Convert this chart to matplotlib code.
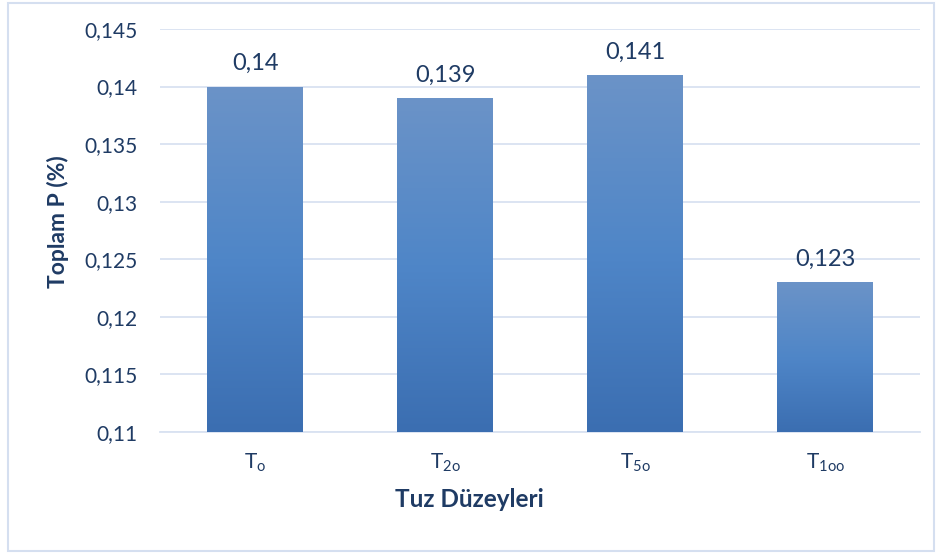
import numpy as np
import matplotlib.pyplot as plt
from matplotlib.patches import Rectangle
from matplotlib.colors import LinearSegmentedColormap

plt.rcParams['font.family'] = ['Lato', 'DejaVu Sans']

kategoriler = [r'T$_{\mathregular{o}}$', r'T$_{\mathregular{2o}}$', r'T$_{\mathregular{5o}}$', r'T$_{\mathregular{1oo}}$']
degerler = [0.14, 0.139, 0.141, 0.123]
etiketler = ['0,14', '0,139', '0,141', '0,123']
yticks = [0.11, 0.115, 0.12, 0.125, 0.13, 0.135, 0.14, 0.145]
ytick_labels = ['0,11', '0,115', '0,12', '0,125', '0,13', '0,135', '0,14', '0,145']

yazi = '#1f3b64'
grid = '#d9e2f1'

fig = plt.figure(figsize=(9.42, 5.53), dpi=100)
fig.patches.append(Rectangle((0.008, 0.004), 0.984, 0.99, transform=fig.transFigure,
                             fill=False, edgecolor='#d5dff0', linewidth=1.5))
ax = fig.add_axes([0.170, 0.2188, 0.807, 0.7288])

x = np.arange(len(degerler))
bars = ax.bar(x, degerler, width=0.505, color='#4a7fc0', zorder=2)

cmap = LinearSegmentedColormap.from_list('g', ['#6b93c7', '#4f86c8', '#3b6eb1'])
grad = np.linspace(0, 1, 256).reshape(-1, 1)
for b in bars:
    x0, w, h = b.get_x(), b.get_width(), b.get_height()
    im = ax.imshow(grad, cmap=cmap, aspect='auto', extent=[x0, x0 + w, 0.11, h],
                   origin='upper', zorder=3)
    im.set_clip_path(b)

for xi, v, t in zip(x, degerler, etiketler):
    ax.text(xi, v + 0.0011, t, ha='center', va='bottom', fontsize=17, color=yazi)

ax.set_xlim(-0.5, 3.5)
ax.set_ylim(0.11, 0.145)
ax.set_yticks(yticks)
ax.set_yticklabels(ytick_labels)
ax.set_xticks(x)
ax.set_xticklabels(kategoriler)
ax.tick_params(axis='both', length=0, labelsize=15, labelcolor=yazi)
ax.tick_params(axis='y', pad=16.5)
ax.tick_params(axis='x', pad=14)
ax.grid(axis='y', color=grid, linewidth=1.3, zorder=0)
for s in ['top', 'right', 'left']:
    ax.spines[s].set_visible(False)
ax.spines['bottom'].set_color(grid)
ax.spines['bottom'].set_linewidth(1.3)

ax.set_xlabel('Tuz Düzeyleri', fontsize=17.5, fontweight='bold', color=yazi)
ax.xaxis.set_label_coords(0.407, -0.138)
ax.set_ylabel('Toplam P (%)', fontsize=16.5, fontweight='bold', color=yazi)
ax.yaxis.set_label_coords(-0.12, 0.521)

fig.savefig('out.png', dpi=100)
